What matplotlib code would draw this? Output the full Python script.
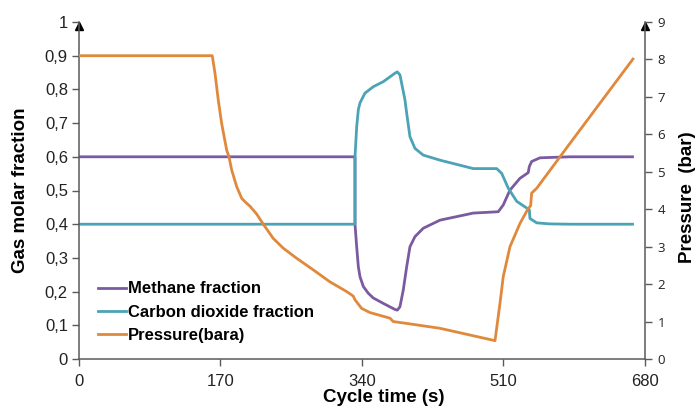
import matplotlib
matplotlib.use("Agg")
import matplotlib.pyplot as plt

plt.rcParams['font.family'] = ['Liberation Sans', 'DejaVu Sans']

# methane molar fraction (left axis)
t_ch4 = [0, 331.6, 331.6, 333.6, 335.6, 337.6, 341.6, 347.6, 353.6, 365.6, 379.6, 382.4,
         385.6, 389.6, 393.7, 397.6, 403.6, 413.6, 433.7, 473.7, 503.7, 509.7, 517.7,
         529.7, 539.7, 541.0, 543.8, 553.8, 589.9, 665.0]
ch4 = [0.600, 0.600, 0.400, 0.333, 0.274, 0.244, 0.215, 0.195, 0.181, 0.165, 0.147, 0.145,
       0.155, 0.205, 0.274, 0.333, 0.363, 0.388, 0.412, 0.433, 0.437, 0.457, 0.501,
       0.536, 0.553, 0.571, 0.586, 0.597, 0.600, 0.600]

# carbon dioxide molar fraction (left axis)
t_co2 = [0, 331.6, 331.6, 333.6, 335.6, 337.6, 343.6, 353.6, 365.6, 379.6, 382.4, 385.6,
         391.6, 393.7, 397.6, 403.6, 413.6, 433.7, 473.7, 501.8, 507.8, 515.7, 525.8,
         537.8, 541.0, 541.8, 549.9, 565.0, 589.9, 665.0]
co2 = [0.400, 0.400, 0.600, 0.689, 0.740, 0.760, 0.789, 0.808, 0.823, 0.848, 0.852, 0.843,
       0.769, 0.729, 0.660, 0.625, 0.605, 0.590, 0.565, 0.565, 0.551, 0.507, 0.468,
       0.448, 0.443, 0.417, 0.404, 0.401, 0.400, 0.400]

# pressure in bar (right axis)
t_p = [0, 160.1, 163.4, 167.3, 171.4, 177.4, 180.2, 183.4, 189.5, 195.5, 199.4, 205.4,
       213.5, 221.4, 233.4, 245.4, 261.5, 281.5, 301.5, 321.6, 329.5, 331.6, 339.6,
       349.6, 373.6, 377.6, 393.7, 433.7, 499.8, 505.8, 509.7, 517.8, 529.8, 539.7,
       542.6, 543.8, 549.9, 589.9, 665.5]
p = [8.10, 8.10, 7.63, 6.92, 6.29, 5.58, 5.40, 5.05, 4.60, 4.29, 4.20, 4.08,
     3.87, 3.60, 3.22, 2.96, 2.69, 2.38, 2.06, 1.80, 1.68, 1.58, 1.35,
     1.24, 1.09, 1.00, 0.95, 0.82, 0.49, 1.49, 2.20, 3.00, 3.62, 4.02,
     4.09, 4.43, 4.56, 5.76, 8.01]

x_ticks = [0, 170, 340, 510, 680]
frac_ticks = [i / 10 for i in range(11)]
p_ticks = list(range(10))

c_ch4 = '#7b5ba0'
c_co2 = '#4ba3b5'
c_p = '#e0893c'
spine_col = '#5a5a5a'

fig = plt.figure(figsize=(6.97, 4.07), dpi=100)
ax = fig.add_axes([79 / 697, 48 / 407, 566 / 697, 337 / 407])
ax2 = ax.twinx()

l1, = ax.plot(t_ch4, ch4, color=c_ch4, lw=2, label='Methane fraction')
l2, = ax.plot(t_co2, co2, color=c_co2, lw=2, label='Carbon dioxide fraction')
l3, = ax2.plot(t_p, p, color=c_p, lw=2, label='Pressure(bara)')

ax.set_xlim(0, 680)
ax.set_ylim(0, 1)
ax2.set_ylim(0, 9)

ax.set_xticks(x_ticks)
ax.set_yticks(frac_ticks)
ax.set_yticklabels(['0' if v == 0 else ('1' if v == 1 else f'{v:.1f}'.replace('.', ','))
                    for v in frac_ticks])
ax2.set_yticks(p_ticks)

for a in (ax, ax2):
    a.spines['top'].set_visible(False)
    for s in ('left', 'right', 'bottom'):
        a.spines[s].set_color(spine_col)
        a.spines[s].set_linewidth(1.1)
ax.spines['right'].set_visible(False)
ax2.spines['left'].set_visible(False)
ax2.spines['bottom'].set_visible(False)

ax.tick_params(axis='y', direction='out', length=5, width=1, color=spine_col,
               labelsize=12, labelcolor='#222222', pad=3)
ax.tick_params(axis='x', direction='out', length=5, width=1, color=spine_col,
               labelsize=12, labelcolor='#222222', pad=6)
ax2.tick_params(axis='y', direction='out', length=5, width=1, color=spine_col,
                labelsize=9.5, labelcolor='#222222', pad=4)
for lab in ax2.get_yticklabels():
    lab.set_family(['Open Sans', 'DejaVu Sans'])

# arrow heads on top of both vertical axes
ax.plot([0], [0.988], marker='^', ms=6, color='black', transform=ax.transAxes, clip_on=False)
ax.plot([1], [0.988], marker='^', ms=6, color='black', transform=ax.transAxes, clip_on=False)

fig.text(21 / 697, 1 - 190 / 407, 'Gas molar fraction', rotation=90, ha='center', va='center',
         fontsize=13.5, fontweight='bold')
fig.text(688 / 697, 1 - 197 / 407, 'Pressure  (bar)', rotation=90, ha='center', va='center',
         fontsize=13.5, fontweight='bold')
fig.text(384 / 697, 1 - 398 / 407, 'Cycle time (s)', ha='center', va='center',
         fontsize=13.5, fontweight='bold')

leg = ax.legend(handles=[l1, l2, l3], loc='lower left', bbox_to_anchor=(0.033, 0.047),
                frameon=False, prop={'weight': 'bold', 'size': 12}, handlelength=1.7,
                handletextpad=0.1, labelspacing=0.5, borderpad=0, borderaxespad=0)

fig.savefig('out.png', dpi=100)
